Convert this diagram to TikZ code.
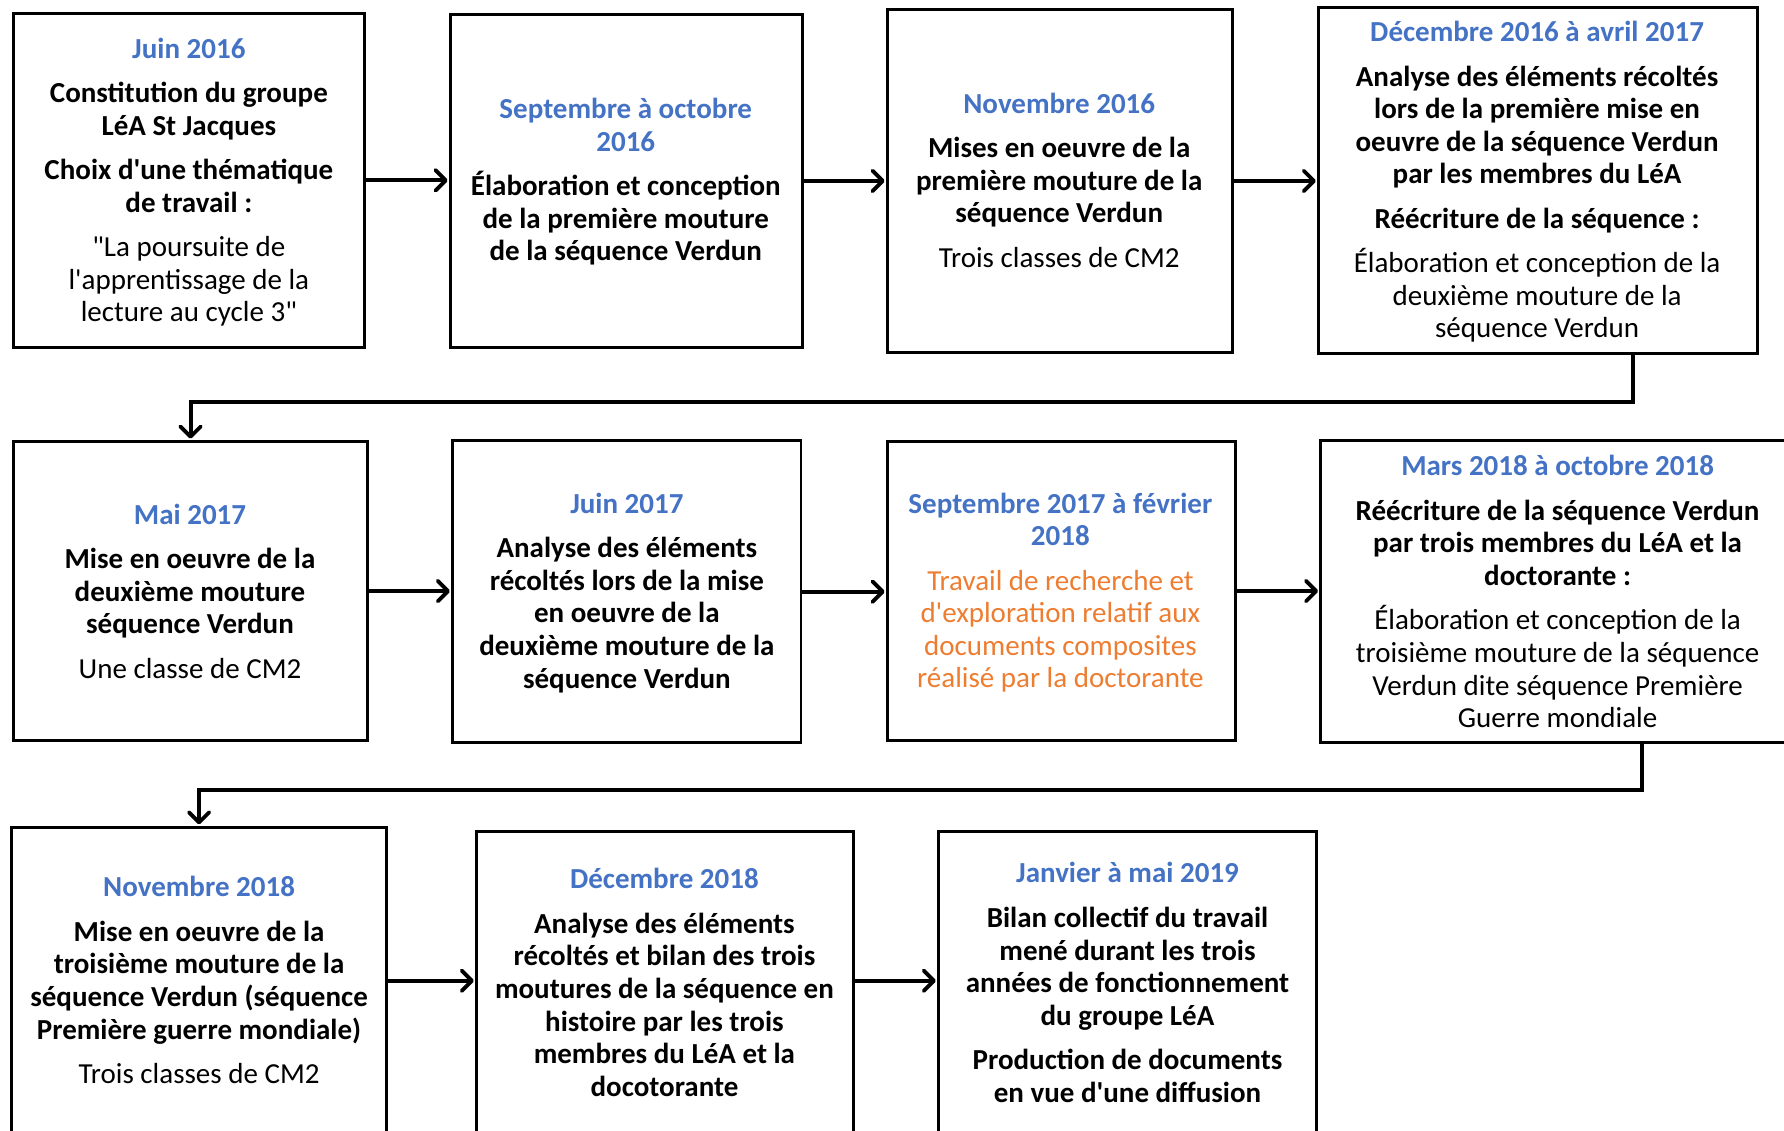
\documentclass[tikz,border=0pt]{standalone}
\usepackage{fontspec}
\setmainfont{Carlito}[Ligatures=TeXOff]
\usetikzlibrary{arrows.meta,calc}
\definecolor{dateblue}{HTML}{4472C4}
\definecolor{orangetxt}{HTML}{ED7D31}
\newcommand{\dt}[1]{\textcolor{dateblue}{\textbf{#1}}}
\begin{document}
\begin{tikzpicture}[x=1pt,y=-1pt,
  box/.style={draw, line width=2.6pt, inner sep=0pt, outer sep=0pt},
  txt/.style={align=center, inner sep=0pt, font=\fontsize{25.5}{28.6}\selectfont},
  arr/.style={line width=3.4pt, shorten >=2.5pt, -{Straight Barb[length=9pt,width=18pt,line width=3.4pt,round]}}]
\useasboundingbox (0,0) rectangle (1568,994);
\clip (0,0) rectangle (1568,994);
\fill[white] (0,0) rectangle (1568,994);
% boxes
\node[box, minimum width=308pt, minimum height=293pt] (b1) at (166,158.5) {};
\node[box, minimum width=309pt, minimum height=292pt] (b2) at (550.5,159) {};
\node[box, minimum width=303pt, minimum height=302pt] (b3) at (931.5,159) {};
\node[box, minimum width=386pt, minimum height=304pt] (b4) at (1352,159) {};
\node[box, minimum width=311pt, minimum height=263pt] (b5) at (167.5,519.5) {};
\node[box, minimum width=306pt, minimum height=266pt] (b6) at (551,520) {};
\node[box, minimum width=306pt, minimum height=263pt] (b7) at (933,519.5) {};
\node[box, minimum width=419pt, minimum height=266pt] (b8) at (1370.5,520) {};
\node[box, minimum width=330pt, minimum height=283pt] (b9) at (175,868.5) {};
\node[box, minimum width=331pt, minimum height=279pt] (b10) at (584.5,870.5) {};
\node[box, minimum width=332pt, minimum height=279pt] (b11) at (991,870.5) {};
% texts
\node[txt] (t1) at (166,160) {\dt{Juin 2016}\\[10.5pt]
  \textbf{Constitution du groupe}\\ \textbf{LéA St Jacques}\\[10.5pt]
  \textbf{Choix d'une thématique}\\ \textbf{de travail :}\\[10.5pt]
  "La poursuite de\\ l'apprentissage de la\\ lecture au cycle 3"};
\node[txt] (t2) at (550,160) {\dt{Septembre à octobre}\\ \dt{2016}\\[10.5pt]
  \textbf{Élaboration et conception}\\ \textbf{de la première mouture}\\ \textbf{de la séquence Verdun}};
\node[txt] (t3) at (931,158.5) {\dt{Novembre 2016}\\[10.5pt]
  \textbf{Mises en oeuvre de la}\\ \textbf{première mouture de la}\\ \textbf{séquence Verdun}\\[10.5pt]
  Trois classes de CM2};
\node[txt] (t4) at (1351,160) {\dt{Décembre 2016 à avril 2017}\\[10.5pt]
  \textbf{Analyse des éléments récoltés}\\ \textbf{lors de la première mise en}\\ \textbf{oeuvre de la séquence Verdun}\\ \textbf{par les membres du LéA}\\[10.5pt]
  \textbf{Réécriture de la séquence :}\\[10.5pt]
  Élaboration et conception de la\\ deuxième mouture de la\\ séquence Verdun};
\node[txt] (t5) at (167,519.5) {\dt{Mai 2017}\\[10.5pt]
  \textbf{Mise en oeuvre de la}\\ \textbf{deuxième mouture}\\ \textbf{séquence Verdun}\\[10.5pt]
  Une classe de CM2};
\node[txt] (t6) at (551,521) {\dt{Juin 2017}\\[10.5pt]
  \textbf{Analyse des éléments}\\ \textbf{récoltés lors de la mise}\\ \textbf{en oeuvre de la}\\ \textbf{deuxième mouture de la}\\ \textbf{séquence Verdun}};
\node[txt] (t7) at (932,521) {\dt{Septembre 2017 à février}\\ \dt{2018}\\[10.5pt]
  \textcolor{orangetxt}{Travail de recherche et}\\ \textcolor{orangetxt}{d'exploration relatif aux}\\ \textcolor{orangetxt}{documents composites}\\ \textcolor{orangetxt}{réalisé par la doctorante}};
\node[txt] (t8) at (1369,520) {\dt{Mars 2018 à octobre 2018}\\[10.5pt]
  \textbf{Réécriture de la séquence Verdun}\\ \textbf{par trois membres du LéA et la}\\ \textbf{doctorante :}\\[10.5pt]
  Élaboration et conception de la\\ troisième mouture de la séquence\\ Verdun dite séquence Première\\ Guerre mondiale};
\node[txt] (t9) at (175,861.5) {\dt{Novembre 2018}\\[10.5pt]
  \textbf{Mise en oeuvre de la}\\ \textbf{troisième mouture de la}\\ \textbf{séquence Verdun (séquence}\\ \textbf{Première guerre mondiale)}\\[10.5pt]
  Trois classes de CM2};
\node[txt] (t10) at (584,863.5) {\dt{Décembre 2018}\\[10.5pt]
  \textbf{Analyse des éléments}\\ \textbf{récoltés et bilan des trois}\\ \textbf{moutures de la séquence en}\\ \textbf{histoire par les trois}\\ \textbf{membres du LéA et la}\\ \textbf{docotorante}};
\node[txt] (t11) at (991,863.5) {\dt{Janvier à mai 2019}\\[10.5pt]
  \textbf{Bilan collectif du travail}\\ \textbf{mené durant les trois}\\ \textbf{années de fonctionnement}\\ \textbf{du groupe LéA}\\[10.5pt]
  \textbf{Production de documents}\\ \textbf{en vue d'une diffusion}};
% arrows row 1
\draw[arr] (b1.east) -- (b1.east -| b2.west);
\draw[arr] (b2.east) -- (b2.east -| b3.west);
\draw[arr] (b3.east) -- (b3.east -| b4.west);
% row 2
\draw[arr] (b5.east) -- (b5.east -| b6.west);
\draw[arr] (b6.east) -- (b6.east -| b7.west);
\draw[arr] (b7.east) -- (b7.east -| b8.west);
% row 3
\coordinate (r3a) at (340,862);
\coordinate (r3b) at (750,862);
\draw[arr] (r3a) -- (r3a -| b10.west);
\draw[arr] (r3b) -- (r3b -| b11.west);
% connectors between rows
\coordinate (k1) at (167.5,353);
\draw[arr] ([xshift=83pt]b4.south) |- (k1) -- (b5.north);
\coordinate (k2) at (175,694);
\draw[arr] ([xshift=72.5pt]b8.south) |- (k2) -- (b9.north);
\end{tikzpicture}
\end{document}
